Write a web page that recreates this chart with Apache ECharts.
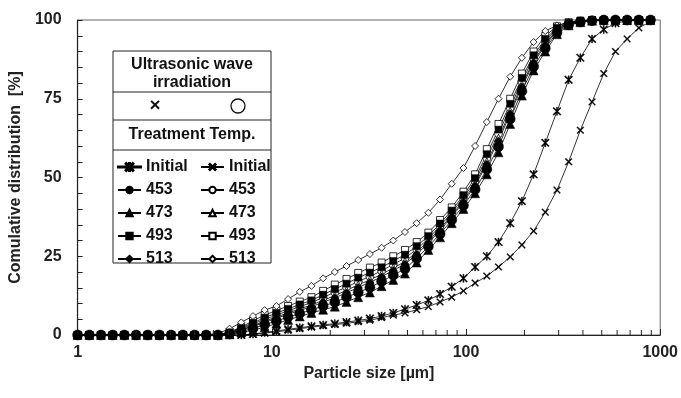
<!DOCTYPE html>
<html>
<head>
<meta charset="utf-8">
<script src="https://cdn.jsdelivr.net/npm/echarts@6/dist/echarts.min.js"></script>
<style>
  html, body { margin: 0; padding: 0; background: #fff; }
  #chart { width: 681px; height: 398px; }
</style>
</head>
<body>
<div id="chart"></div>
<script>
// particle size classes [um]
var sizes = [1, 1.149, 1.32, 1.516, 1.741, 2, 2.297, 2.639, 3.031, 3.482, 4, 4.595, 5.278, 6.063, 6.964,
  8, 9.19, 10.56, 12.13, 13.93, 16, 18.38, 21.11, 24.25, 27.86, 32, 36.76, 42.22, 48.5, 55.72,
  64, 73.52, 84.45, 97.01, 111.4, 128, 147, 168.9, 194, 222.9, 256, 294.1, 337.8, 388, 445.7,
  512, 588.1, 675.6, 776.1, 891.4];

var yTicks = [0, 25, 50, 75, 100];

// without ultrasonic wave
var initialA = [0,0,0,0,0,0,0,0,0,0,0,0,0,0,0,
  0.3,0.8,1.3,1.8,2.3,2.8,3.2,3.6,4.1,4.6,5.2,6.0,7.0,8.2,9.5,11,13,15.3,18,21.6,
  25,29.5,35.5,42.5,51,61,71,81,88,94,97,99,99.7,100,100];
var t453A = [0,0,0,0,0,0,0,0,0,0,0,0,0,
  0.4,1.1,2.1,3.3,4.4,5.7,6.8,8.0,9.2,10.4,12.0,13.5,15.1,17.0,19.0,21.0,24.3,28.1,32.1,36.5,
  41.1,46.2,52.6,59.8,68.6,77.4,85.2,91.0,96.0,98.5,99.4,99.8,100,100,100,100,100];
var t473A = [0,0,0,0,0,0,0,0,0,0,0,0,0,
  0.2,0.8,1.5,2.5,3.6,4.8,5.9,7,8,9,10.5,12,13.5,15.5,17.5,19.5,23,27,31,35.5,
  40,45,51,58,67,76,84,90,95.5,98.3,99.3,99.8,100,100,100,100,100];
var t493A = [0,0,0,0,0,0,0,0,0,0,0,0,0,
  0.8,2.2,3.9,5.5,7.0,8.3,9.7,11.0,12.8,14.6,16.3,18.2,19.8,21.5,23.5,25.5,28.2,31.4,35.4,39.5,
  44.4,49.8,57.4,65.2,73.4,81.6,88.8,94.0,97.5,99.1,99.7,100,100,100,100,100,100];
var t513A = [0,0,0,0,0,0,0,0,0,0,0,0,0,
  0.5,1.5,2.7,4.0,5.3,6.6,7.8,9.0,10.4,11.8,13.4,15.1,16.7,18.5,20.5,22.5,25.6,29.2,33.2,37.5,
  42.2,47.4,54.2,61.6,70.2,78.8,86.4,92.0,96.5,98.7,99.5,99.9,100,100,100,100,100];

// with ultrasonic wave
var initialB = [0,0,0,0,0,0,0,0,0,0,0,0,0,0,0,
  0.2,0.6,1.0,1.5,2.0,2.5,2.9,3.3,3.7,4.2,4.7,5.5,6.3,7.0,8.0,9.0,10.5,12,14,16.5,
  18.7,21.6,24.8,28.6,33,39,46,55,65,74,83,90,94,97.5,99.5];
var t453B = [0,0,0,0,0,0,0,0,0,0,0,0,0,
  0.7,1.9,3.5,5.0,6.3,7.7,9.0,10.3,11.9,13.6,15.2,17.0,18.6,20.4,22.4,24.4,27.2,30.6,34.6,38.8,
  43.6,48.9,56.2,63.9,72.2,80.6,87.9,93.3,97.1,99.0,99.6,99.9,100,100,100,100,100];
var t473B = [0,0,0,0,0,0,0,0,0,0,0,0,0,
  0.6,1.7,3.0,4.4,5.7,7.0,8.3,9.5,11,12.5,14.2,15.9,17.5,19.3,21.3,23.3,26.3,29.8,33.8,38,
  42.8,48,55,62.5,71,79.5,87,92.5,96.8,98.8,99.6,99.9,100,100,100,100,100];
var t493B = [0,0,0,0,0,0,0,0,0,0,0,0,0,
  1,2.5,4.5,6.3,7.8,9.2,10.6,12,14,16,17.8,19.7,21.4,23,25,27,29.5,32.5,36.5,40.5,
  45.5,51,59,67,75,83,90,95,98,99.3,99.8,100,100,100,100,100,100];
var t513B = [0,0,0,0,0,0,0,0,0,0,0,0,
  0.5,2,4,6,7.9,9.2,11.4,13.7,15.6,18,20,21.9,23.8,25.7,27.7,30,32.7,35.5,38.8,43,
  48,53,60,67.6,75,82,88,93,96.5,98.3,99.3,99.8,100,100,100,100,100,100];

var FONT = '"Liberation Sans", Arial, sans-serif';
// asterisk (x with a vertical bar) drawn as one outline
var starPath = 'path://M4.4,0 L5.6,0 L5.6,3.4 L9,0 L10,1 L6,5 L10,9 L9,10 L5.6,6.6 L5.6,10 L4.4,10 L4.4,6.6 L1,10 L0,9 L4,5 L0,1 L1,0 L4.4,3.4 Z';
var crossPath = 'path://M0,1 L1,0 L5,4 L9,0 L10,1 L6,5 L10,9 L9,10 L5,6 L1,10 L0,9 L4,5 Z';
// legend icon for the asterisk series: short line with the asterisk in the middle (23 x 8 box)
var starLegendIcon = 'path://M0,3.6 L23,3.6 L23,4.4 L0,4.4 Z ' +
  'M11.02,0 L11.98,0 L11.98,2.72 L14.7,0 L15.5,0.8 L12.3,4 L15.5,7.2 L14.7,8 L11.98,5.28 L11.98,8 ' +
  'L11.02,8 L11.02,5.28 L8.3,8 L7.5,7.2 L10.7,4 L7.5,0.8 L8.3,0 L11.02,2.72 Z';

function pairs(vals) {
  return sizes.map(function (s, i) { return [s, vals[i]]; });
}

function mk(name, vals, symbol, size, filled) {
  return {
    name: name,
    type: 'line',
    data: pairs(vals),
    symbol: symbol,
    symbolSize: size,
    showAllSymbol: true,
    lineStyle: { color: '#000', width: 0.8 },
    itemStyle: filled
      ? { color: '#000', borderColor: '#000', borderWidth: 0.5 }
      : { color: '#fff', borderColor: '#000', borderWidth: 0.8 },
    emphasis: { disabled: true }
  };
}

// open (ultrasonic) series first, filled ones drawn over them
var series = [
  mk('Initial (US)', initialB, crossPath, 7, true),
  mk('453 (US)', t453B, 'circle', 8, false),
  mk('473 (US)', t473B, 'triangle', 8, false),
  mk('493 (US)', t493B, 'rect', 7, false),
  mk('513 (US)', t513B, 'diamond', 7, false),
  mk('Initial', initialA, starPath, 8, true),
  mk('473', t473A, 'triangle', 9, true),
  mk('493', t493A, 'rect', 7, true),
  mk('513', t513A, 'diamond', 8, true),
  mk('453', t453A, 'circle', 10, true)
];

var legendText = { fontFamily: FONT, fontWeight: 'bold', fontSize: 16, color: '#111' };
function legendCol(left, names) {
  return {
    orient: 'vertical', left: left, top: 159, z: 10, padding: 0,
    itemWidth: 23, itemHeight: 8, itemGap: 7,
    selectedMode: false,
    data: names,
    textStyle: legendText,
    formatter: function (n) { return n.replace(' (US)', ''); }
  };
}

var tableBox = [
  { type: 'rect', shape: { x: 113, y: 51, width: 158, height: 212 },
    style: { fill: '#fff', stroke: '#222', lineWidth: 1 }, z: 5 },
  { type: 'line', shape: { x1: 113, y1: 92, x2: 271, y2: 92 }, style: { stroke: '#222', lineWidth: 1 }, z: 6 },
  { type: 'line', shape: { x1: 113, y1: 120, x2: 271, y2: 120 }, style: { stroke: '#222', lineWidth: 1 }, z: 6 },
  { type: 'line', shape: { x1: 113, y1: 150, x2: 271, y2: 150 }, style: { stroke: '#222', lineWidth: 1 }, z: 6 },
  { type: 'text', x: 192, y: 65, z: 6,
    style: { text: 'Ultrasonic wave', font: 'bold 16px ' + FONT, fill: '#111', align: 'center', verticalAlign: 'middle' } },
  { type: 'text', x: 192, y: 83, z: 6,
    style: { text: 'irradiation', font: 'bold 16px ' + FONT, fill: '#111', align: 'center', verticalAlign: 'middle' } },
  { type: 'text', x: 155, y: 106, z: 6,
    style: { text: '×', font: 'bold 19px ' + FONT, fill: '#111', align: 'center', verticalAlign: 'middle' } },
  { type: 'circle', shape: { cx: 238, cy: 106, r: 7 }, z: 6,
    style: { fill: '#fff', stroke: '#111', lineWidth: 1.3 } },
  { type: 'text', x: 192, y: 135, z: 6,
    style: { text: 'Treatment Temp.', font: 'bold 16px ' + FONT, fill: '#111', align: 'center', verticalAlign: 'middle' } }
];

var chart = echarts.init(document.getElementById('chart'), null, { renderer: 'canvas' });

var option = {
  animation: false,
  backgroundColor: '#fff',
  grid: { left: 74, right: 19, top: 20, bottom: 63, show: true, borderColor: '#666', borderWidth: 1, backgroundColor: 'transparent' },
  legend: [
    legendCol(117, [{ name: 'Initial', icon: starLegendIcon }, '453', '473', '493', '513']),
    legendCol(200, ['Initial (US)', '453 (US)', '473 (US)', '493 (US)', '513 (US)'])
  ],
  xAxis: {
    type: 'log', logBase: 10, min: 1, max: 1000,
    name: 'Particle size [µm]', nameLocation: 'middle', nameGap: 27,
    nameTextStyle: { fontFamily: FONT, fontWeight: 'bold', fontSize: 16, color: '#222' },
    axisLine: { lineStyle: { color: '#222', width: 1.2 } },
    axisTick: { inside: true, length: 6, lineStyle: { color: '#222' } },
    axisLabel: { fontFamily: FONT, fontWeight: 'bold', fontSize: 16, color: '#222', margin: 10,
      formatter: function (v) { return String(v); } },
    splitLine: { show: false }
  },
  yAxis: {
    type: 'value', min: 0, max: 100, interval: 25,
    name: 'Comulative distribution  [%]', nameLocation: 'middle', nameGap: 47,
    nameTextStyle: { fontFamily: FONT, fontWeight: 'bold', fontSize: 16, color: '#222' },
    axisLine: { show: true, lineStyle: { color: '#222', width: 1.2 } },
    axisTick: { inside: true, length: 5, lineStyle: { color: '#222' } },
    minorTick: { show: true, splitNumber: 5, length: 5, lineStyle: { color: '#222' } },
    axisLabel: { fontFamily: FONT, fontWeight: 'bold', fontSize: 16, color: '#222', margin: 16,
      formatter: function (v) { return yTicks.indexOf(v) >= 0 ? String(v) : ''; } },
    splitLine: { show: false }
  },
  series: series,
  graphic: tableBox
};

chart.setOption(option);

// log-axis minor ticks at 2..9 of each decade, placed through the axis scale
var minor = [];
[1, 10, 100].forEach(function (dec) {
  for (var m = 2; m <= 9; m++) {
    var px = chart.convertToPixel({ xAxisIndex: 0 }, dec * m);
    var py = chart.convertToPixel({ yAxisIndex: 0 }, 0);
    minor.push({ type: 'line', shape: { x1: px, y1: py, x2: px, y2: py - 5 },
      style: { stroke: '#222', lineWidth: 1 }, z: 4, silent: true });
  }
});
chart.setOption({ graphic: tableBox.concat(minor) });
</script>
</body>
</html>
